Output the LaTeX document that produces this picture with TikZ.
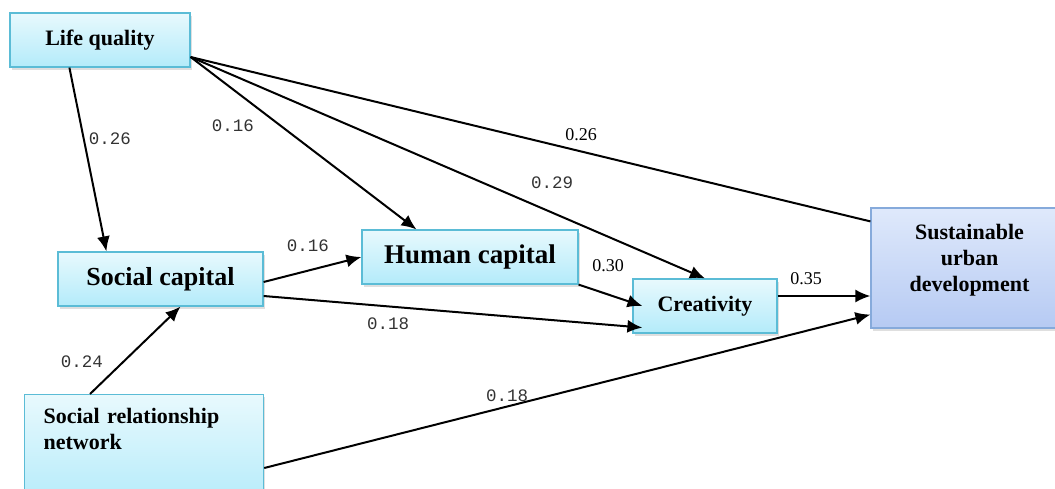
\documentclass[tikz,border=0pt]{standalone}
\usepackage{fontspec}
\setmainfont{Liberation Serif}
\setmonofont{Liberation Mono}
\usetikzlibrary{arrows.meta,shadows}
\definecolor{boxtop}{HTML}{E8F9FD}
\definecolor{boxbot}{HTML}{B3EBFA}
\definecolor{boxline}{HTML}{5BBCD6}
\definecolor{goaltop}{HTML}{DFE9FB}
\definecolor{goalbot}{HTML}{B6CAF3}
\definecolor{goalline}{HTML}{86AADB}
\tikzset{
  var/.style    = {shape=rectangle, draw=boxline, line width=1.2pt,
                   align=center, top color=boxtop, bottom color=boxbot,
                   font=\bfseries\fontsize{22}{26}\selectfont,
                   drop shadow={opacity=0.25, shadow xshift=1.5pt, shadow yshift=-2.5pt},
                   minimum height=54pt},
  big/.style    = {var, font=\bfseries\fontsize{27}{30}\selectfont},
  goal/.style   = {var, draw=goalline, top color=goaltop, bottom color=goalbot},
  arr/.style    = {line width=2pt, -{Latex[length=15pt,width=13pt]}},
  link/.style   = {line width=2pt},
  coef/.style   = {font=\ttfamily\fontsize{17.5}{20}\selectfont, text=black!80, inner sep=0pt},
  coefrm/.style = {font=\fontsize{18}{20}\selectfont, inner sep=0pt}
}
\begin{document}
\begin{tikzpicture}[x=1pt, y=-1pt]
  \useasboundingbox (0,0) rectangle (1055,488);
  % variables
  \node [var, minimum width=180pt] (lq) at (100,40) {Life quality};
  \node [big, minimum width=205pt, font=\bfseries\fontsize{26}{30}\selectfont] (sc) at (160.5,279) {Social capital};
  \node [big, minimum width=216pt] (hc) at (470,257) {Human capital};
  \node [var, minimum width=144pt] (cr) at (705,306) {Creativity};
  \node [goal, minimum width=197pt, minimum height=120pt, text depth=21pt] (sud) at (969.5,268) {Sustainable\\urban\\development};
  \node [var, anchor=north west, text width=201pt, align=left, inner xsep=19pt,
         inner ysep=14pt, minimum height=0pt, text depth=70pt] (srn) at (24,394) {Social relationship\\network};
  % paths
  \draw [arr] ([xshift=60pt]lq.south west) -- ([xshift=49pt]sc.north west);
  \draw [arr] ([yshift=-17pt]lq.east) -- ([xshift=55pt]hc.north west);
  \draw [arr] ([yshift=-17pt]lq.east) -- (cr.north);
  \draw [link] ([yshift=-17pt]lq.east) -- ([yshift=-14pt]sud.north west);
  \draw [arr] ([yshift=-3pt]sc.east) -- (hc.west);
  \draw [arr] ([yshift=-17pt]sc.east) -- ([xshift=10pt,yshift=6pt]cr.south west);
  \draw [arr] (hc.south east) -- ([xshift=10pt]cr.west);
  \draw [arr] ([yshift=10pt]cr.east) -- ([yshift=-28pt]sud.west);
  \draw [arr] ([xshift=66pt]srn.north west) -- ([xshift=20pt]sc.south);
  \draw [arr] ([yshift=-74pt]srn.north east) -- ([yshift=14pt]sud.south west);
  % coefficients
  \node [coef] (c1) at (110,139) {0.26};
  \node [coef] (c2) at (233,126) {0.16};
  \node [coef] (c3) at (552,183) {0.29};
  \node [coefrm] (c4) at (581,135) {0.26};
  \node [coef] (c5) at (308,246) {0.16};
  \node [coefrm] (c6) at (608,266) {0.30};
  \node [coef] (c7) at (388,324) {0.18};
  \node [coefrm] (c8) at (806,279) {0.35};
  \node [coef] (c9) at (82,362) {0.24};
  \node [coef] (c10) at (507,396) {0.18};
\end{tikzpicture}
\end{document}
